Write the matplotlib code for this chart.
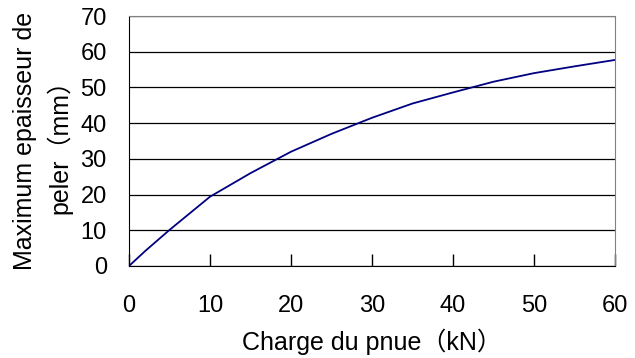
import matplotlib.pyplot as plt

# Charge du pneu (kN) vs épaisseur max (mm)
charge = [0, 2, 5, 10, 15, 20, 25, 30, 35, 40, 45, 50, 55, 60]
epaisseur = [0, 4.2, 10.1, 19.4, 26.0, 32.0, 37.0, 41.5, 45.5, 48.6, 51.6, 54.0, 55.9, 57.7]

plt.rcParams['font.family'] = ['Liberation Sans', 'Noto Sans CJK JP']

fig = plt.figure(figsize=(6.35, 3.58), dpi=100)
ax = fig.add_axes([129 / 635, 1 - 266 / 358, 486 / 635, 250 / 358])

ax.plot(charge, epaisseur, color='#000080', linewidth=1.3)

ax.set_xlim(0, 60)
ax.set_ylim(0, 70)
ax.set_xticks(range(0, 61, 10))
ax.set_yticks(range(0, 71, 10))
ax.yaxis.grid(True, color='black', linewidth=0.9)
ax.set_axisbelow(True)

ax.tick_params(axis='x', direction='in', length=9, width=1, pad=21, labelsize=17)
ax.tick_params(axis='y', length=0, pad=16, labelsize=17)

for s in ['top', 'right']:
    ax.spines[s].set_color('#808080')
for s in ['left', 'bottom']:
    ax.spines[s].set_color('black')

ax.set_xlabel('Charge du pnue（kN）', fontsize=18, labelpad=8)
ax.set_ylabel('Maximum epaisseur de\npeler（mm）', fontsize=18, labelpad=6, linespacing=1.4)

fig.savefig('out.png', dpi=100)
